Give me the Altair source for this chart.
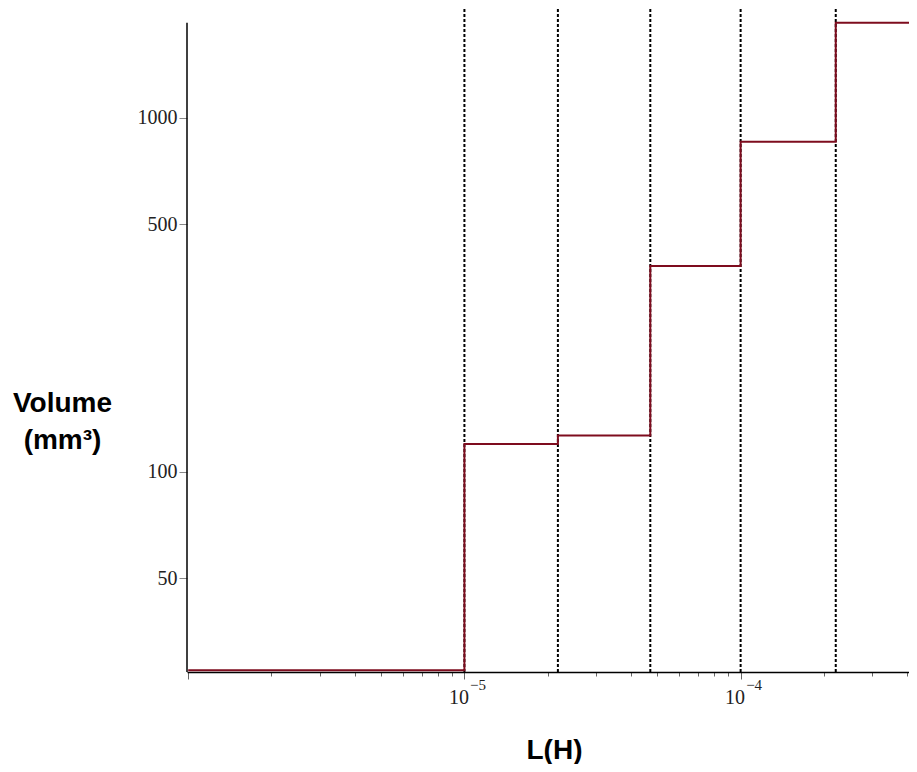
import altair as alt
import pandas as pd

# Step curve (Volume vs L(H))
step_x = [1e-6, 1e-5, 2.18e-5, 4.71e-5, 1e-4, 2.21e-4, 4.07e-4]
step_y = [27.5, 119.8, 126.7, 381.0, 856.0, 1854.0, 1854.0]

# Vertical dotted reference lines
dotted_x = [1e-5, 2.18e-5, 4.71e-5, 1e-4, 2.21e-4]

# Axes
x_domain = [9.9e-7, 4.07e-4]
y_domain = [27.2, 2028.0]
y_ticks = [50, 100, 500, 1000]
x_major = [1e-5, 1e-4]
x_ticks = [m * 10.0 ** e for e in (-6, -5, -4) for m in range(1, 10)]
x_ticks = [v for v in x_ticks if x_domain[0] <= v <= x_domain[1]]

line_df = pd.DataFrame({"x": step_x, "y": step_y})
vline_df = pd.DataFrame({"x": dotted_x})
yaxis_df = pd.DataFrame({"x": [x_domain[0]], "y": [y_domain[0]], "y2": [step_y[-1]]})

xscale = alt.Scale(type="log", domain=x_domain, nice=False)
yscale = alt.Scale(type="log", domain=y_domain, nice=False)

major_test = "abs(log(datum.value)/LN10 - round(log(datum.value)/LN10)) < 0.001"
base_expr = ("(datum.value > 0.0000099 && datum.value < 0.0000101) || "
             "(datum.value > 0.000099 && datum.value < 0.000101) ? '10' : ''")
exp_expr = "'−' + format(-round(log(datum.value)/LN10), 'd')"

x_axis = alt.Axis(
    values=x_ticks,
    labelExpr=base_expr,
    grid=False,
    orient="bottom",
    domainColor="black",
    domainWidth=1.5,
    tickColor="#666",
    tickWidth=1,
    tickSize={"condition": {"test": major_test, "value": 7}, "value": 4},
    labelFont="Liberation Serif",
    labelFontSize=20,
    labelColor="#222",
    labelPadding=8,
    labelOffset=-6,
    labelFlush=False,
    labelOverlap=False,
    title="L(H)",
    titleFont="Liberation Sans",
    titleFontWeight="bold",
    titleFontSize=28,
    titleColor="black",
    titleAlign="center",
    titleBaseline="middle",
    titleX=367,
    titleY=78,
)

x_exp_axis = alt.Axis(
    values=x_major,
    labelExpr=exp_expr,
    orient="bottom",
    grid=False,
    domain=False,
    ticks=False,
    tickSize=0,
    labelFont="Liberation Serif",
    labelFontSize=15,
    labelColor="#222",
    labelPadding=5,
    labelOffset=13,
    labelFlush=False,
    labelOverlap=False,
    title="",
)

y_axis = alt.Axis(
    values=y_ticks,
    format="d",
    grid=False,
    domain=False,
    tickColor="#888",
    tickWidth=1,
    tickSize=8,
    labelFont="Liberation Serif",
    labelFontSize=20,
    labelColor="#222",
    labelPadding=2,
    title=["Volume", "(mm³)"],
    titleFont="Liberation Sans",
    titleFontWeight="bold",
    titleFontSize=28,
    titleColor="black",
    titleAngle=0,
    titleAlign="center",
    titleBaseline="middle",
    titleLineHeight=37,
    titleX=-125,
    titleY=394,
)

vlines = alt.Chart(vline_df).mark_rule(
    color="black", strokeWidth=2, strokeDash=[3, 2]
).encode(x=alt.X("x:Q", scale=xscale, axis=x_axis))

yaxis_line = alt.Chart(yaxis_df).mark_rule(color="black", strokeWidth=1.5).encode(
    x=alt.X("x:Q", scale=xscale, axis=None),
    y=alt.Y("y:Q", scale=yscale, axis=y_axis),
    y2="y2:Q",
)

curve = alt.Chart(line_df).mark_line(
    color="#7E0C1E", strokeWidth=2, interpolate="step-after", clip=True
).encode(
    x=alt.X("x:Q", scale=xscale, axis=x_exp_axis),
    y=alt.Y("y:Q", scale=yscale),
)

chart = alt.layer(vlines, yaxis_line, curve).resolve_axis(x="independent").properties(
    width=722,
    height=663,
    background="white",
    autosize=alt.AutoSizeParams(type="none"),
    padding={"left": 179, "top": 1, "right": 0, "bottom": 92},
).configure_view(strokeWidth=0, stroke="transparent")

chart.save("out.html", embed_options={"renderer": "svg", "actions": False})
